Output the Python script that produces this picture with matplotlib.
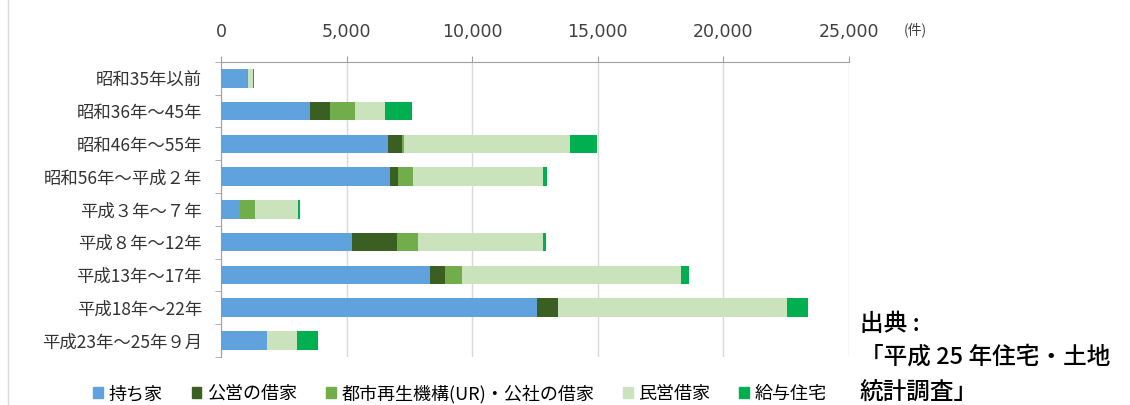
import matplotlib
matplotlib.use("Agg")
import matplotlib.pyplot as plt
import numpy as np
from matplotlib.lines import Line2D

plt.rcParams['font.family'] = ['Noto Sans CJK JP', 'DejaVu Sans']

# construction period of dwellings
periods = ['昭和35年以前', '昭和36年～45年', '昭和46年～55年', '昭和56年～平成２年',
           '平成３年～７年', '平成８年～12年', '平成13年～17年', '平成18年～22年',
           '平成23年～25年９月']

# dwellings by tenure (件)
owned = [1000, 3510, 6620, 6700, 720, 5190, 8300, 12570, 1800]
public = [0, 800, 560, 320, 0, 1800, 600, 840, 0]
ur = [50, 1000, 100, 600, 600, 840, 680, 0, 0]
private = [200, 1200, 6620, 5190, 1720, 4990, 8740, 9140, 1200]
company = [60, 1100, 1080, 160, 100, 120, 320, 840, 840]

series_names = ['持ち家', '公営の借家', '都市再生機構(UR)・公社の借家', '民営借家', '給与住宅']
series = [owned, public, ur, private, company]
colors = ['#5fa2dd', '#3b5f22', '#72ad4c', '#cbe3bd', '#00b050']

fig = plt.figure(figsize=(11.3, 4.05), dpi=100)
ax = fig.add_axes([0.196, 0.119, 0.555, 0.728])

y = np.arange(len(periods))
left = np.zeros(len(periods))
for vals, c in zip(series, colors):
    ax.barh(y, vals, left=left, height=0.56, color=c, zorder=3)
    left += np.array(vals)

ax.set_xlim(0, 25000)
ax.set_ylim(len(periods) - 0.5, -0.5)
ax.xaxis.tick_top()
ax.set_xticks(np.arange(0, 25001, 5000))
ax.set_xticklabels([f'{v:,}' for v in range(0, 25001, 5000)],
                   family='DejaVu Sans', fontsize=12.5, color='#404040')
ax.tick_params(axis='x', length=4, color='#a0a0a0', pad=11)
ax.grid(axis='x', color='#d9d9d9', linewidth=1, zorder=0)

ax.set_yticks(y)
ax.set_yticklabels(periods, fontsize=12.5, color='#333333')
ax.set_yticks(np.arange(-0.5, len(periods)), minor=True)
ax.tick_params(axis='y', which='major', length=0, pad=14)
ax.tick_params(axis='y', which='minor', length=4, color='#a0a0a0')

for s in ['right', 'bottom']:
    ax.spines[s].set_visible(False)
for s in ['top', 'left']:
    ax.spines[s].set_color('#a0a0a0')

fig.text(0.80, 0.915, '(件)', fontsize=10, color='#404040')

# left frame line of the chart area
fig.add_artist(Line2D([0.007, 0.007], [0, 1], color='#d9d9d9', linewidth=1))

handles = [plt.Rectangle((0, 0), 1, 1, color=c) for c in colors]
fig.legend(handles, series_names, loc='center', bbox_to_anchor=(0.407, 0.028),
           ncol=5, frameon=False, fontsize=13, handlelength=0.55, handleheight=0.55,
           handletextpad=0.3, columnspacing=1.6)

fig.text(0.761, 0.198, '出典 :', fontsize=17, color='black', va='center', weight='medium')
fig.text(0.761, 0.118, '「平成 25 年住宅・土地', fontsize=17, color='black', va='center',
         weight='medium')
fig.text(0.761, 0.03, '統計調査」', fontsize=17, color='black', va='center', weight='medium')

fig.savefig('out.png', dpi=100)
